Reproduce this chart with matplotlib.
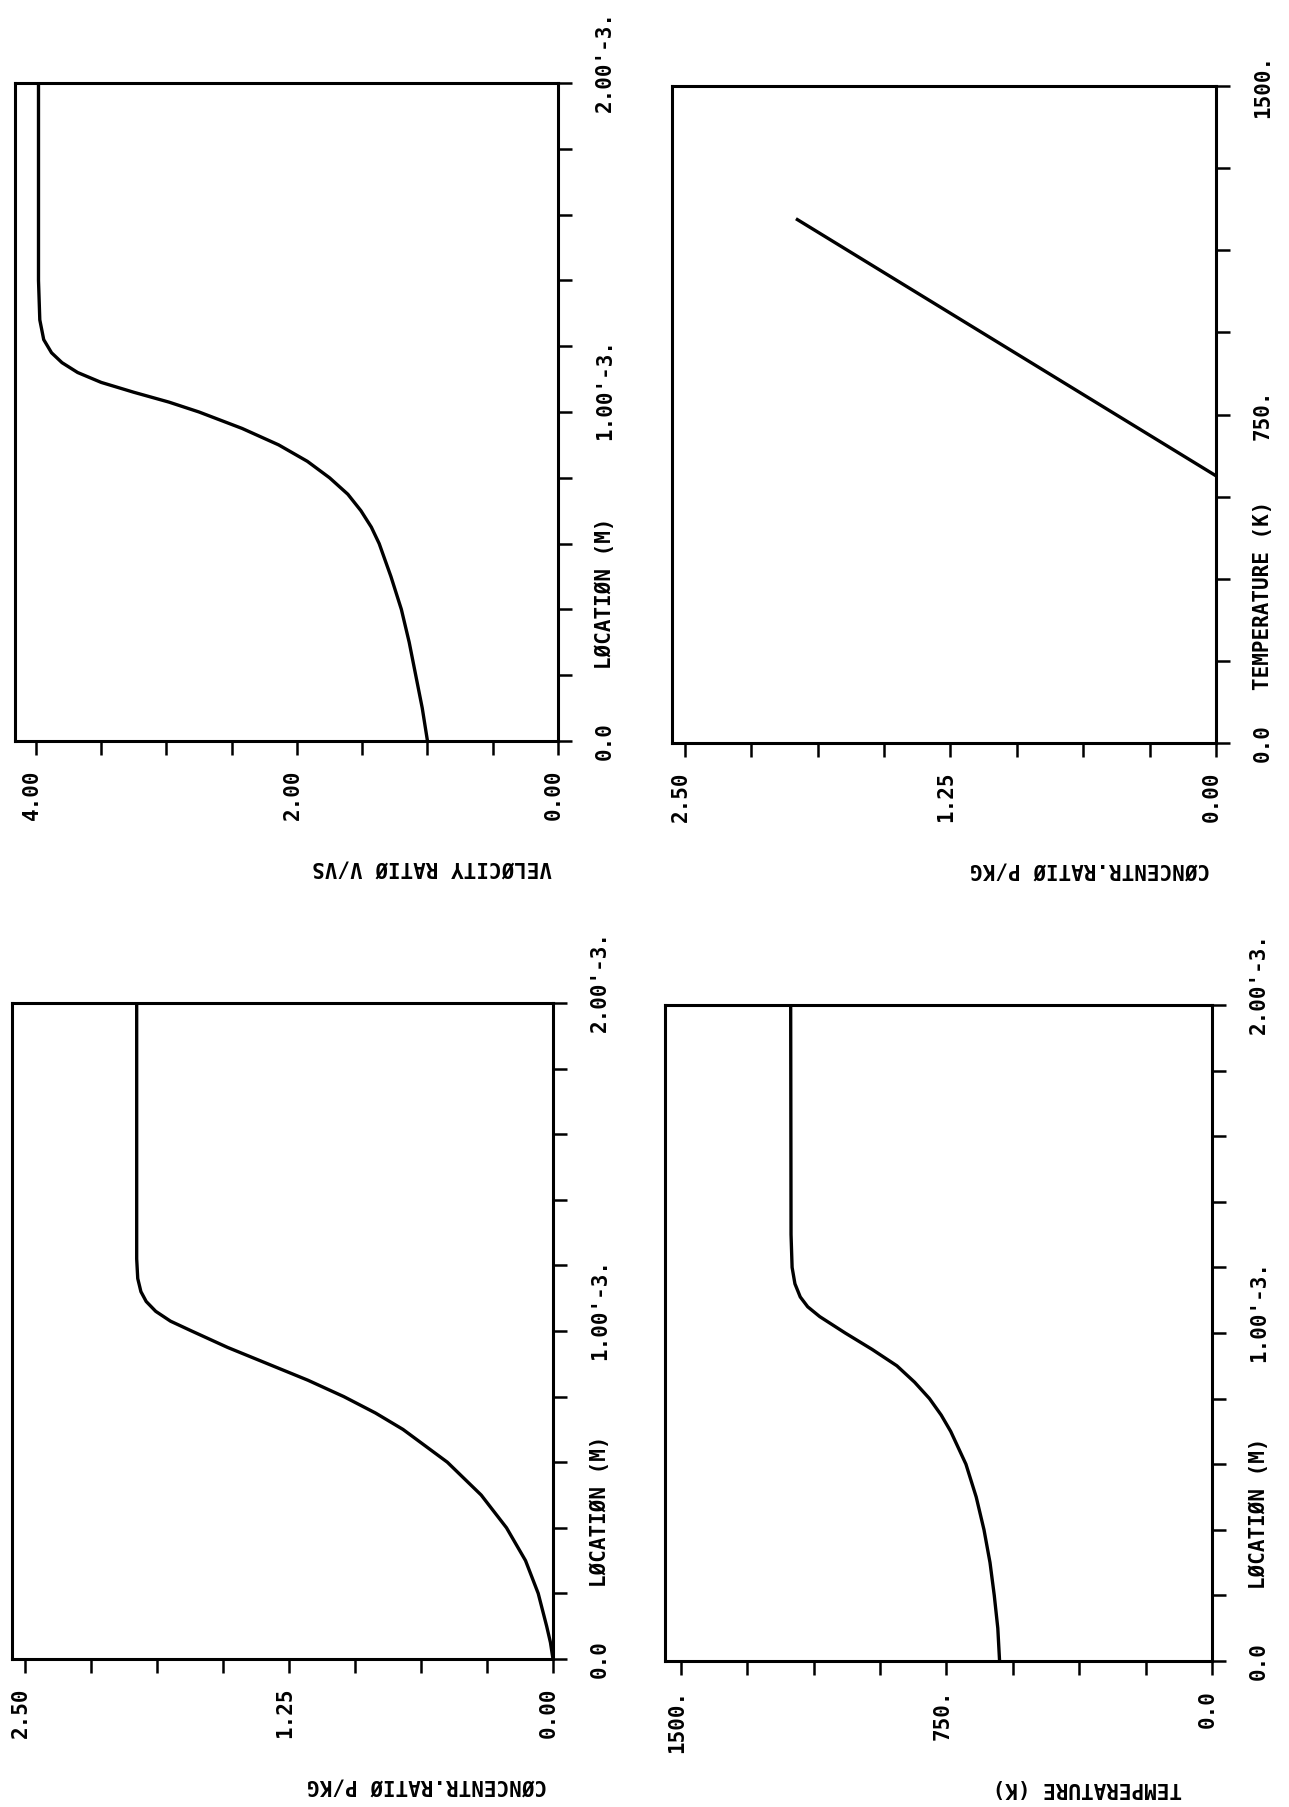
import numpy as np
import matplotlib
matplotlib.use("Agg")
import matplotlib.pyplot as plt
from matplotlib.transforms import ScaledTranslation, blended_transform_factory

# ---------------- data ----------------
# location in units of 1e-3 m
loc_vel = [0.0, 0.1, 0.2, 0.3, 0.4, 0.5, 0.6, 0.65, 0.7, 0.75, 0.8, 0.85, 0.9,
           0.95, 1.0, 1.03, 1.06, 1.09, 1.12, 1.15, 1.18, 1.22, 1.28, 1.4, 2.0]
vel_ratio = [1.00, 1.04, 1.09, 1.14, 1.20, 1.28, 1.37, 1.43, 1.51, 1.61, 1.75,
             1.92, 2.14, 2.42, 2.75, 2.98, 3.25, 3.50, 3.68, 3.80, 3.88, 3.94,
             3.97, 3.98, 3.98]

loc_conc = [0.0, 0.05, 0.1, 0.2, 0.3, 0.4, 0.5, 0.6, 0.7, 0.75, 0.8, 0.85, 0.9,
            0.95, 1.0, 1.03, 1.06, 1.09, 1.12, 1.16, 1.22, 2.0]
conc_ratio = [0.0, 0.012, 0.03, 0.07, 0.13, 0.22, 0.34, 0.50, 0.71, 0.84, 0.99,
              1.16, 1.35, 1.54, 1.71, 1.81, 1.88, 1.925, 1.95, 1.965, 1.97, 1.97]

loc_temp = [0.0, 0.1, 0.2, 0.3, 0.4, 0.5, 0.6, 0.7, 0.75, 0.8, 0.85, 0.9, 0.95,
            1.0, 1.05, 1.08, 1.11, 1.15, 1.2, 1.3, 2.0]
temperature = [600, 605, 615, 627, 644, 666, 695, 738, 765, 798, 840, 890, 960,
               1036, 1108, 1142, 1163, 1178, 1186, 1189, 1190]

temp_line = [610, 1195]
conc_line = [0.0, 1.97]

loc_ticks = [0.0, 1.0, 2.0]
loc_ticklabels = ["0.0", "1.00'-3.", "2.00'-3."]
vel_ticks = [4.0, 2.0, 0.0]
vel_ticklabels = ["4.00", "2.00", "0.00"]
conc_ticks = [2.5, 1.25, 0.0]
conc_ticklabels = ["2.50", "1.25", "0.00"]
temp_ticks = [1500.0, 750.0, 0.0]
temp_ticklabels = ["1500.", "750.", "0.0"]
temp_axis_ticks = [0.0, 750.0, 1500.0]
temp_axis_ticklabels = ["0.0", "750.", "1500."]

# ---------------- style ----------------
DPI = 100
W, H = 1289, 1807
FONT = dict(family="DejaVu Sans Mono", weight="bold", size=15, color="black")
LW_SPINE = 2.2
LW_CURVE = 2.4

fig = plt.figure(figsize=(W / DPI, H / DPI), dpi=DPI)


def rect(x0, y0, x1, y1):
    return [x0 / W, 1 - y1 / H, (x1 - x0) / W, (y1 - y0) / H]


def off(dx, dy):
    return ScaledTranslation(dx / DPI, -dy / DPI, fig.dpi_scale_trans)


def panel(r, xleft, vticks, vlabels, vminor_n, ymax, yticks, ylabels, yminor_n,
          vlabel, ylabel, vlabel_dx=-6):
    ax = fig.add_axes(r)
    ax.set_xlim(xleft, 0)
    ax.set_ylim(0, ymax)
    for s in ax.spines.values():
        s.set_linewidth(LW_SPINE)
    vmax = max(vticks)
    ax.set_xticks(np.linspace(0, vmax, vminor_n + 1))
    ax.set_yticks(np.linspace(0, ymax, yminor_n + 1))
    ax.tick_params(axis="x", direction="out", length=10, width=1.8,
                   bottom=True, top=False, labelbottom=False)
    ax.tick_params(axis="y", direction="out", length=10, width=1.8,
                   left=False, right=True, labelleft=False, labelright=False)
    ax.patch.set_alpha(0)

    # value tick labels (bottom), rotated
    tr_x = blended_transform_factory(ax.transData, ax.transAxes)
    for v, lab in zip(vticks, vlabels):
        ax.text(v, 0, lab, transform=tr_x + off(2, 29), rotation=90,
                rotation_mode="anchor", ha="right", va="baseline", **FONT)
    # location tick labels (right), rotated
    tr_y = blended_transform_factory(ax.transAxes, ax.transData)
    for v, lab in zip(yticks, ylabels):
        dy = -22 if "'" in lab else 0
        ax.text(1, v, lab, transform=tr_y + off(47, dy), rotation=90,
                rotation_mode="anchor", ha="center", va="center", **FONT)
    # axis titles
    ax.text(1, 0.225, ylabel, transform=ax.transAxes + off(47, 0), rotation=90,
            rotation_mode="anchor", ha="center", va="center", **FONT)
    ax.text(1, 0, vlabel, transform=ax.transAxes + off(vlabel_dx, 127),
            rotation=180, rotation_mode="anchor", ha="left", va="center", **FONT)
    return ax


axA = panel(rect(15, 83, 558, 741), 4.16, vel_ticks, vel_ticklabels, 8,
            2.0, loc_ticks, loc_ticklabels, 10,
            "VELØCITY RATIØ V/VS", "LØCATIØN (M)")
axA.plot(vel_ratio, loc_vel, color="black", lw=LW_CURVE)

axB = panel(rect(672, 86, 1216, 743), 2.56, conc_ticks, conc_ticklabels, 8,
            1500.0, temp_axis_ticks, temp_axis_ticklabels, 8,
            "CØNCENTR.RATIØ P/KG", "TEMPERATURE (K)")
axB.plot(conc_line, temp_line, color="black", lw=LW_CURVE)

axC = panel(rect(12, 1003, 553, 1659), 2.56, conc_ticks, conc_ticklabels, 8,
            2.0, loc_ticks, loc_ticklabels, 10,
            "CØNCENTR.RATIØ P/KG", "LØCATIØN (M)")
axC.plot(conc_ratio, loc_conc, color="black", lw=LW_CURVE)

axD = panel(rect(665, 1005, 1212, 1661), 1545.0, temp_ticks, temp_ticklabels, 8,
            2.0, loc_ticks, loc_ticklabels, 10,
            "TEMPERATURE (K)", "LØCATIØN (M)", vlabel_dx=-30)
axD.plot(temperature, loc_temp, color="black", lw=LW_CURVE)

fig.savefig("out.png", dpi=DPI, facecolor="white")
